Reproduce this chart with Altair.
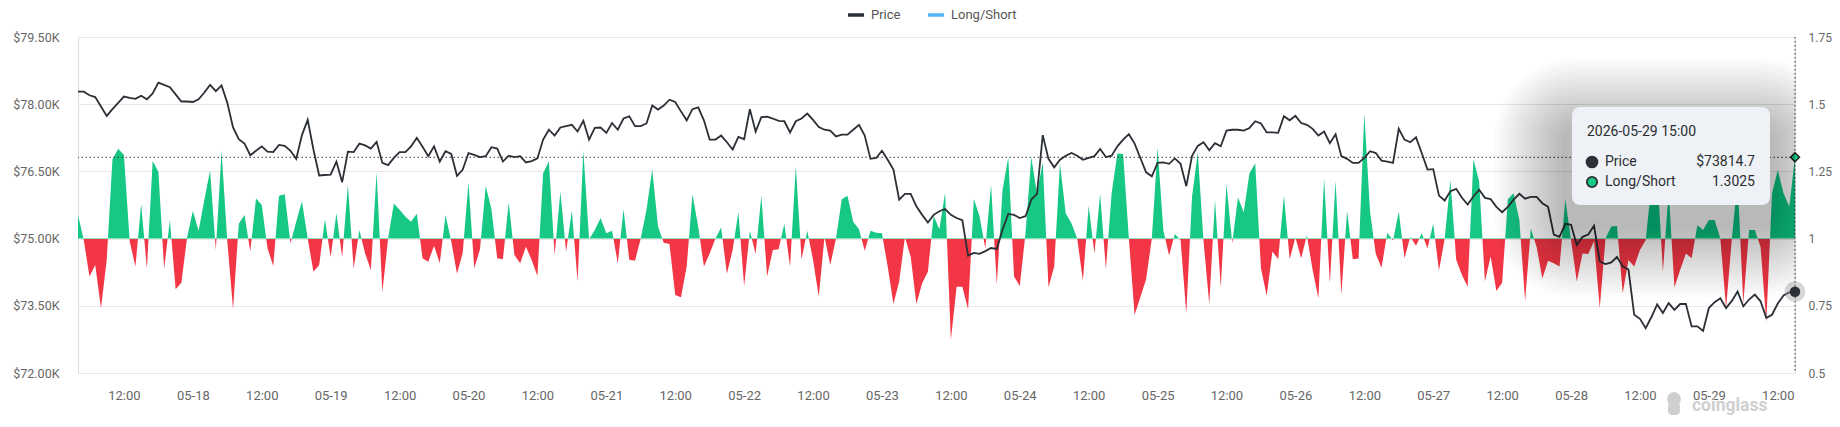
import altair as alt
import pandas as pd

START = "2026-05-17 04:00"

price = [78280, 78280, 78200, 78160, 77950, 77740, 77890, 78030, 78170, 78140,
         78120, 78190, 78110, 78240, 78480, 78430, 78380, 78220, 78060, 78060,
         78050, 78110, 78260, 78430, 78290, 78420, 78030, 77480, 77220, 77120,
         76860, 76960, 77060, 76940, 76930, 77090, 77070, 76960, 76780, 77310,
         77650, 76990, 76410, 76420, 76430, 76720, 76260, 76940, 76930, 77120,
         77080, 77010, 77160, 76690, 76640, 76800, 76930, 76930, 77060, 77250,
         77050, 76840, 77060, 76720, 76950, 76890, 76400, 76540, 76910, 76870,
         76820, 76840, 77040, 77010, 76720, 76850, 76820, 76840, 76700, 76730,
         76790, 77210, 77430, 77300, 77480, 77510, 77540, 77390, 77630, 77210,
         77470, 77480, 77360, 77580, 77430, 77680, 77730, 77510, 77510, 77570,
         77970, 77880, 77970, 78100, 78050, 77840, 77640, 77890, 77930, 77640,
         77210, 77210, 77300, 77150, 76990, 77270, 77220, 77890, 77390, 77710,
         77720, 77680, 77630, 77620, 77370, 77620, 77680, 77790, 77650, 77490,
         77430, 77410, 77280, 77320, 77320, 77430, 77540, 77300, 76780, 76800,
         76960, 76760, 76540, 75870, 76000, 76000, 75720, 75530, 75360, 75530,
         75610, 75660, 75530, 75460, 75410, 74620, 74680, 74660, 74720, 74790,
         74770, 75200, 75550, 75530, 75460, 75500, 75870, 76000, 77310, 76780,
         76590, 76760, 76850, 76910, 76850, 76760, 76800, 76840, 77000, 76820,
         76850, 77060, 77210, 77330, 77120, 76800, 76480, 76390, 76690, 76700,
         76670, 76790, 76670, 76170, 76850, 77070, 77150, 76970, 77130, 77060,
         77410, 77430, 77430, 77410, 77470, 77620, 77570, 77370, 77370, 77360,
         77730, 77640, 77740, 77580, 77540, 77450, 77300, 77390, 77130, 77330,
         76840, 76780, 76690, 76690, 76800, 76950, 76910, 76740, 76720, 76690,
         77450, 77210, 77150, 77260, 76910, 76540, 76550, 75960, 75850, 76060,
         76110, 75910, 75760, 75940, 76090, 75910, 75880, 75710, 75590, 75710,
         75870, 76000, 75890, 75930, 75930, 75790, 75710, 75090, 75040, 75330,
         75310, 74860, 75040, 75090, 75290, 74490, 74430, 74470, 74590, 74380,
         74310, 73300, 73210, 73000, 73250, 73530, 73340, 73560, 73410, 73540,
         73540, 73040, 73040, 72940, 73450, 73580, 73670, 73450, 73610, 73820,
         73490, 73640, 73750, 73600, 73230, 73300, 73550, 73730, 73800, 73814.7]

ratio = [1.088, 0.995, 0.859, 0.902, 0.741, 0.92, 1.295, 1.334, 1.311, 0.99,
         0.896, 1.129, 0.888, 1.289, 1.249, 0.888, 1.069, 0.812, 0.836, 1.005,
         1.103, 1.029, 1.144, 1.253, 0.958, 1.326, 0.99, 0.737, 1.055, 1.088,
         0.952, 1.149, 1.125, 0.964, 0.898, 1.159, 1.165, 0.983, 1.063, 1.139,
         1.0, 0.877, 0.902, 1.072, 0.931, 1.094, 0.931, 1.20, 0.888, 1.032,
         0.945, 0.883, 1.247, 0.80, 1.0, 1.131, 1.107, 1.082, 1.063, 1.092,
         0.927, 0.914, 0.973, 0.908, 1.087, 0.99, 0.869, 0.948, 1.21, 0.89,
         0.96, 1.196, 1.109, 0.927, 0.923, 1.134, 0.939, 0.908, 0.97, 0.92,
         0.861, 1.243, 1.288, 0.939, 1.174, 0.952, 1.104, 0.84, 1.327, 0.998,
         1.032, 1.077, 1.02, 1.029, 0.908, 1.109, 0.921, 0.918, 1.0, 1.107,
         1.258, 1.045, 0.985, 0.98, 0.79, 0.782, 0.896, 1.165, 1.045, 0.896,
         0.945, 1.0, 1.041, 0.869, 0.958, 1.099, 0.824, 1.029, 0.943, 1.159,
         0.859, 0.958, 0.96, 1.055, 0.896, 1.27, 0.923, 1.029, 0.921, 0.784,
         1.007, 0.902, 1.0, 1.146, 1.159, 1.063, 1.035, 0.955, 1.029, 1.022,
         1.02, 0.896, 0.757, 0.84, 1.005, 0.933, 0.757, 0.834, 0.877, 1.084,
         1.035, 1.171, 0.623, 0.821, 0.821, 0.737, 1.148, 1.082, 0.964, 1.2,
         0.83, 1.181, 1.303, 0.859, 0.824, 1.02, 1.303, 1.169, 1.284, 0.819,
         0.896, 1.28, 1.094, 1.057, 1.0, 0.843, 1.122, 0.945, 1.166, 0.886,
         1.169, 1.317, 1.315, 1.0, 0.716, 0.782, 0.849, 1.0, 1.339, 1.032,
         0.937, 1.017, 0.995, 0.722, 1.156, 1.32, 0.99, 0.757, 1.144, 0.819,
         1.203, 0.983, 1.153, 1.098, 1.243, 1.28, 0.89, 0.787, 0.952, 0.923,
         1.16, 0.923, 1.005, 0.927, 1.012, 0.883, 0.778, 1.224, 0.834, 1.215,
         0.79, 1.103, 0.923, 0.926, 1.466, 1.10, 0.943, 0.892, 1.022, 0.993,
         1.10, 0.927, 1.007, 0.973, 1.02, 0.964, 1.055, 0.881, 1.0, 1.218,
         0.921, 0.865, 0.821, 1.295, 1.212, 0.84, 0.933, 0.805, 0.836, 1.146,
         1.169, 1.069, 0.768, 1.038, 0.97, 0.852, 0.918, 0.908, 0.896, 1.146,
         0.995, 0.84, 0.945, 0.943, 0.99, 0.741, 1.0, 1.045, 1.047, 0.797,
         0.92, 0.896, 0.958, 0.995, 1.2, 1.25, 0.877, 1.18, 0.819, 0.883,
         0.945, 0.927, 1.05, 1.032, 1.069, 1.069, 1.0, 0.741, 1.0, 1.22,
         0.759, 1.032, 1.032, 0.97, 0.69, 1.169, 1.255, 1.169, 1.119, 1.3025]

price_ticks = [72000, 73500, 75000, 76500, 78000, 79500]
ratio_ticks = [0.5, 0.75, 1, 1.25, 1.5, 1.75]
series_names = ["Price", "Long/Short"]

# ---------------------------------------------------------------- data
times = pd.date_range(START, periods=len(price), freq="h", tz="UTC")
df = pd.DataFrame({
    "t": [t.strftime("%Y-%m-%dT%H:%M:%SZ") for t in times],
    "price": price,
    "ratio": ratio,
    "series": "Price",
})
last = df.iloc[[-1]].reset_index(drop=True)
tick_times = pd.date_range(times[0].normalize() + pd.Timedelta(hours=12),
                           times[-1], freq="12h")
x_tick_values = [int(t.timestamp() * 1000) for t in tick_times]

# ---------------------------------------------------------------- style
W, H = 1717, 336
GREEN = "#17c784"
RED = "#f23645"
LINE = "#2b2f36"
BLUE = "#4fb6f5"
LABEL = "#666666"
FONT = "Roboto"

price_scale = alt.Scale(domain=[price_ticks[0], price_ticks[-1]], nice=False, zero=False)
ratio_scale = alt.Scale(domain=[ratio_ticks[0], ratio_ticks[-1]], nice=False, zero=False)

x_enc = alt.X(
    "t:T",
    scale=alt.Scale(type="utc"),
    title=None,
    axis=alt.Axis(
        values=x_tick_values,
        labelExpr="utchours(datum.value) == 0 ? utcFormat(datum.value, '%m-%d') : utcFormat(datum.value, '%H:%M')",
        grid=False, domain=False, ticks=False, tickSize=0,
        labelPadding=16, labelFontSize=13, labelColor=LABEL, labelFont=FONT,
        labelOverlap=False,
    ),
)

# ---------------------------------------------------------------- ratio area
r_max, r_min = max(ratio), min(ratio)
off = (r_max - 1) / (r_max - r_min)
grad = alt.LinearGradient(
    gradient="linear",
    stops=[alt.GradientStop(color=GREEN, offset=0),
           alt.GradientStop(color=GREEN, offset=off),
           alt.GradientStop(color=RED, offset=off),
           alt.GradientStop(color=RED, offset=1)],
    x1=0, x2=0, y1=0, y2=1,
)
area = alt.Chart(df).mark_area(color=grad, opacity=1, interpolate="linear").encode(
    x=x_enc,
    y=alt.Y("ratio:Q", scale=ratio_scale, title=None,
            axis=alt.Axis(orient="right", values=ratio_ticks,
                          labelExpr="'' + datum.value",
                          grid=False, domain=False, ticks=False, tickSize=0,
                          labelPadding=13, labelFontSize=12, labelColor=LABEL,
                          labelFont=FONT)),
    y2=alt.datum(1),
)

# ---------------------------------------------------------------- price line
line = alt.Chart(df).mark_line(strokeWidth=1.8).encode(
    x=x_enc,
    y=alt.Y("price:Q", scale=price_scale, title=None,
            axis=alt.Axis(orient="left", values=price_ticks,
                          labelExpr="'$' + format(datum.value / 1000, '.2f') + 'K'",
                          grid=True, gridColor="#e6e6e6", gridWidth=1,
                          domain=False, ticks=False, tickSize=0,
                          labelPadding=19, labelFontSize=12.5, labelColor=LABEL,
                          labelFont=FONT)),
    color=alt.Color("series:N",
                    scale=alt.Scale(domain=series_names, range=[LINE, BLUE]),
                    legend=alt.Legend(orient="none", legendX=768, legendY=-32,
                                      direction="horizontal", title=None,
                                      symbolType="stroke", symbolSize=256,
                                      symbolStrokeWidth=3.5, labelFontSize=13,
                                      labelColor="#555555", labelFont=FONT,
                                      columnPadding=20, labelOffset=5, padding=0)),
)

# ---------------------------------------------------------------- crosshair / hover
hline = alt.Chart(last).mark_rule(color="#333333", strokeWidth=1, strokeDash=[1.5, 2.5]).encode(
    y=alt.Y("ratio:Q", scale=ratio_scale, axis=None))
vline = alt.Chart(last).mark_rule(color="#333333", strokeWidth=1, strokeDash=[1.5, 2.5]).encode(
    x=x_enc)
diamond = alt.Chart(last).mark_point(shape="diamond", filled=True, fill=GREEN, stroke="#1d1d1d",
                                     strokeWidth=1.5, size=80, opacity=1).encode(
    x=x_enc, y=alt.Y("ratio:Q", scale=ratio_scale, axis=None))
halo = alt.Chart(last).mark_circle(size=430, color="#9c9c9c", opacity=0.4).encode(
    x=x_enc, y=alt.Y("price:Q", scale=price_scale, axis=None))
dot = alt.Chart(last).mark_circle(size=110, color=LINE, opacity=1).encode(
    x=x_enc, y=alt.Y("price:Q", scale=price_scale, axis=None))

# ---------------------------------------------------------------- tooltip box
one = pd.DataFrame({"a": [0]})
BX1, BX2, BY1, BY2 = W - 223, W - 25, 70, 168
shadow_layers = []
for i in range(1, 19):
    e = i * 4
    shadow_layers.append(
        alt.Chart(one).mark_rect(color="#000000", opacity=0.016, cornerRadius=10 + e, clip=True).encode(
            x=alt.value(BX1 - e - 6), x2=alt.value(BX2 + e),
            y=alt.value(BY1 - e + 24), y2=alt.value(BY2 + e + 20)))
box = alt.Chart(one).mark_rect(color="#eef1f5", cornerRadius=8, opacity=1).encode(
    x=alt.value(BX1), x2=alt.value(BX2), y=alt.value(BY1), y2=alt.value(BY2))

tip_date = times[-1].strftime("%Y-%m-%d %H:%M")
tip_price = f"${price[-1]:.1f}"
tip_ratio = f"{ratio[-1]:.4f}"

def ttext(txt, x, y, align="left"):
    return alt.Chart(one).mark_text(text=txt, align=align, baseline="middle", fontSize=14,
                                    font=FONT, color="#2a2e33").encode(
        x=alt.value(x), y=alt.value(y))

tip_items = [
    ttext(tip_date, BX1 + 15, BY1 + 25),
    alt.Chart(one).mark_point(filled=True, fill=LINE, stroke=LINE, size=115, opacity=1).encode(
        x=alt.value(BX1 + 20), y=alt.value(BY1 + 55)),
    alt.Chart(one).mark_point(filled=True, fill=GREEN, stroke="#2b2f36", strokeWidth=1.8,
                              size=105, opacity=1).encode(
        x=alt.value(BX1 + 20), y=alt.value(BY1 + 75)),
    ttext("Price", BX1 + 33, BY1 + 55),
    ttext("Long/Short", BX1 + 33, BY1 + 75),
    ttext(tip_price, BX2 - 15, BY1 + 55, "right"),
    ttext(tip_ratio, BX2 - 15, BY1 + 75, "right"),
]

# ---------------------------------------------------------------- watermark
WM = "#cfcfcf"
mascot_head = alt.Chart(one).mark_point(filled=True, color=WM, size=190, opacity=1).encode(
    x=alt.value(W - 121), y=alt.value(H + 26))
mascot_body = alt.Chart(one).mark_rect(color=WM, cornerRadius=4, opacity=1).encode(
    x=alt.value(W - 127), x2=alt.value(W - 115), y=alt.value(H + 29), y2=alt.value(H + 42))
mark_txt = alt.Chart(one).mark_text(text="coinglass", align="left", baseline="alphabetic",
                                    fontSize=17.5, fontWeight="bold", font=FONT,
                                    color=WM).encode(
    x=alt.value(W - 103), y=alt.value(H + 38))

chart = alt.layer(
    area, line, hline, vline, halo, dot, diamond,
    *shadow_layers, box, *tip_items, mascot_head, mascot_body, mark_txt,
).resolve_scale(y="independent").properties(
    width=W, height=H,
    autosize=alt.AutoSizeParams(type="none"),
    padding={"left": 70, "top": 29, "right": 37, "bottom": 45},
).configure_view(stroke="transparent").configure(font=FONT)

chart.save("out.html", embed_options={"renderer": "svg", "actions": False})
